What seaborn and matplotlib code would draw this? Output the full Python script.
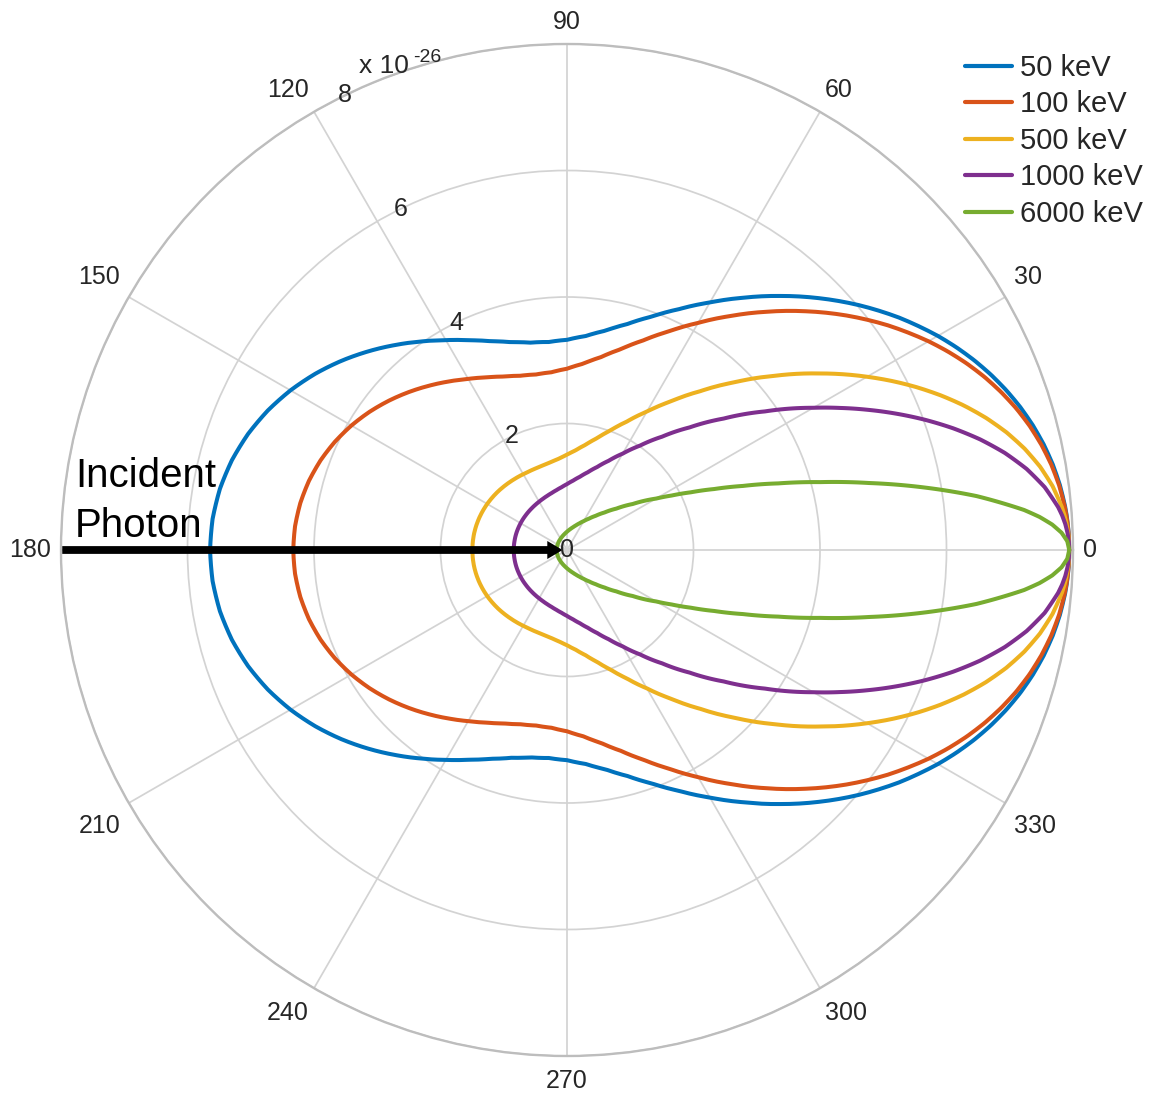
import numpy as np
import pandas as pd
import matplotlib
matplotlib.use("Agg")
import matplotlib.pyplot as plt
import seaborn as sns

# ---------------- data (units of 1e-26) ----------------
angles_deg = [0, 1, 2, 3, 4, 5, 7.5, 10, 12.5, 15, 17.5, 20, 22.5, 25, 27.5, 30,
              35, 40, 45, 50, 55, 60, 65, 70, 75, 80, 85, 90, 95, 100, 105, 110,
              115, 120, 125, 130, 135, 140, 145, 150, 155, 160, 165, 170, 175, 180]

kev50 = [7.940, 7.939, 7.935, 7.928, 7.918, 7.905, 7.860, 7.798, 7.719, 7.624,
         7.514, 7.389, 7.251, 7.101, 6.940, 6.770,
         6.407, 6.023, 5.631, 5.243, 4.869, 4.519, 4.203, 3.928, 3.700, 3.522,
         3.396, 3.323, 3.301, 3.329, 3.401, 3.512, 3.658, 3.831, 4.024, 4.230,
         4.442, 4.654, 4.858, 5.048, 5.219, 5.366, 5.485, 5.572, 5.625, 5.643]

kev100 = [7.940, 7.939, 7.934, 7.926, 7.914, 7.899, 7.847, 7.775, 7.683, 7.574,
          7.447, 7.303, 7.146, 6.975, 6.792, 6.600,
          6.193, 5.768, 5.338, 4.917, 4.517, 4.146, 3.814, 3.527, 3.287, 3.097,
          2.957, 2.866, 2.821, 2.818, 2.852, 2.918, 3.011, 3.124, 3.253, 3.391,
          3.533, 3.674, 3.810, 3.936, 4.049, 4.146, 4.224, 4.281, 4.316, 4.328]

kev500 = [7.940, 7.937, 7.926, 7.909, 7.884, 7.852, 7.743, 7.594, 7.409, 7.192,
          6.946, 6.678, 6.392, 6.094, 5.788, 5.478,
          4.866, 4.284, 3.751, 3.278, 2.870, 2.526, 2.241, 2.012, 1.830, 1.689,
          1.583, 1.505, 1.450, 1.414, 1.393, 1.382, 1.380, 1.384, 1.393, 1.404,
          1.417, 1.431, 1.444, 1.457, 1.468, 1.478, 1.486, 1.492, 1.495, 1.496]

kev1000 = [7.940, 7.935, 7.917, 7.888, 7.847, 7.794, 7.617, 7.379, 7.090, 6.760,
           6.400, 6.021, 5.633, 5.245, 4.864, 4.497,
           3.820, 3.233, 2.741, 2.339, 2.016, 1.759, 1.556, 1.397, 1.273, 1.176,
           1.101, 1.042, 0.996, 0.961, 0.933, 0.912, 0.895, 0.882, 0.872, 0.864,
           0.858, 0.853, 0.850, 0.847, 0.845, 0.844, 0.843, 0.842, 0.842, 0.841]

kev6000 = [7.940, 7.911, 7.824, 7.682, 7.490, 7.255, 6.531, 5.710, 4.893, 4.147,
           3.502, 2.962, 2.519, 2.158, 1.865, 1.626,
           1.268, 1.018, 0.839, 0.706, 0.605, 0.527, 0.465, 0.415, 0.374, 0.341,
           0.313, 0.289, 0.269, 0.252, 0.238, 0.225, 0.215, 0.205, 0.197, 0.191,
           0.185, 0.180, 0.175, 0.172, 0.169, 0.166, 0.165, 0.163, 0.163, 0.162]

energies = ["50 keV", "100 keV", "500 keV", "1000 keV", "6000 keV"]
colors = ["#0072BD", "#D95319", "#EDB120", "#7E2F8E", "#77AC30"]

theta_ticks = [0, 30, 60, 90, 120, 150, 180, 210, 240, 270, 300, 330]
theta_labels = ["0", "30", "60", "90", "120", "150", "180", "210", "240",
                "270", "300", "330"]
r_ticks = [0, 2, 4, 6, 8]
r_labels = ["0", "2", "4", "6", "8"]
r_max = 8
r_label_angle = 116
scale_text = "x 10"
scale_exp = "-26"
arrow_text = "Incident\nPhoton"

# ---------------- build long table (mirror 0..180 onto 180..360) ----------------
frames = []
a = np.array(angles_deg, dtype=float)
for name, vals in zip(energies, [kev50, kev100, kev500, kev1000, kev6000]):
    v = np.array(vals, dtype=float)
    full_a = np.concatenate([a, 360.0 - a[::-1][1:]])
    full_v = np.concatenate([v, v[::-1][1:]])
    frames.append(pd.DataFrame({"theta": np.deg2rad(full_a), "r": full_v,
                                "energy": name}))
df = pd.concat(frames, ignore_index=True)

# ---------------- style ----------------
sns.set_style("white")
plt.rcParams["font.family"] = ["Liberation Sans", "DejaVu Sans"]
text_color = "#262626"

W, H = 1160, 1097
fig = plt.figure(figsize=(W / 100, H / 100), dpi=100)
ax = fig.add_axes([61 / W, 41 / H, 1012 / W, 1012 / H], projection="polar")

sns.lineplot(data=df, x="theta", y="r", hue="energy", hue_order=energies,
             palette=colors, sort=False, estimator=None, errorbar=None,
             linewidth=2.9, ax=ax, legend=True)

# let the polar transform draw each segment along the polar grid (smooth arcs)
for ln in ax.lines:
    ln.get_path()._interpolation_steps = 12
    ln.set_solid_joinstyle("round")

ax.set_theta_zero_location("E")
ax.set_theta_direction(1)
ax.set_ylim(0, r_max)
ax.set_yticks(r_ticks[1:])
ax.set_yticklabels([])
ax.set_xticks(np.deg2rad(theta_ticks))
ax.set_xticklabels([])
ax.set_xlabel("")
ax.set_ylabel("")
ax.tick_params(length=0)
ax.set_axisbelow(True)
ax.grid(True, color="#d3d3d3", linewidth=1.25)
ax.spines["polar"].set_color("#bdbdbd")
ax.spines["polar"].set_linewidth(1.7)

# theta labels (MATLAB-like placement outside the circle)
for t, lab in zip(theta_ticks, theta_labels):
    c, s = np.cos(np.deg2rad(t)), np.sin(np.deg2rad(t))
    ha = "left" if c > 0.3 else ("right" if c < -0.3 else "center")
    if s > 0.3:
        va, dy = "baseline", 10 + 5 * s
    elif s < -0.3:
        va, dy = "top", -(9 + 4 * abs(s))
    else:
        va, dy = "center", 0
    dx = 10 * c
    ax.annotate(lab, xy=(np.deg2rad(t), r_max), xycoords="data",
                xytext=(dx, dy), textcoords="offset pixels", ha=ha, va=va,
                fontsize=18, color=text_color, annotation_clip=False)

# radial labels
for rv, lab in zip(r_ticks, r_labels):
    ax.text(np.deg2rad(r_label_angle), rv, lab, ha="center", va="center",
            fontsize=18, color=text_color, zorder=7)

# scale factor label
fig.text(359 / W, 1 - 73 / H, scale_text, fontsize=19, color=text_color,
         va="baseline", ha="left")
fig.text(413 / W, 1 - 62 / H, scale_exp, fontsize=14, color=text_color,
         va="baseline", ha="left")

# incident photon arrow
ax.annotate("", xy=(np.pi, 0.07), xytext=(np.pi, 7.98), xycoords="data",
            arrowprops=dict(facecolor="black", edgecolor="black", linewidth=0,
                            width=5.6, headwidth=13, headlength=11, shrink=0),
            annotation_clip=False, zorder=6)
fig.text(75 / W, 1 - 537 / H, arrow_text, fontsize=29, color="black",
         ha="left", va="baseline", linespacing=1.4)

# legend
handles, labels = ax.get_legend_handles_labels()
leg = ax.legend(handles, labels, loc="upper left",
                bbox_to_anchor=(965 / W, 1 - 54 / H),
                bbox_transform=fig.transFigure, frameon=False,
                borderpad=0, borderaxespad=0, handlelength=1.6,
                handletextpad=0.28, labelspacing=0.29, fontsize=21)
for ln in leg.get_lines():
    ln.set_linewidth(3.0)
for tx in leg.get_texts():
    tx.set_color(text_color)

fig.savefig("out.png", dpi=100)
